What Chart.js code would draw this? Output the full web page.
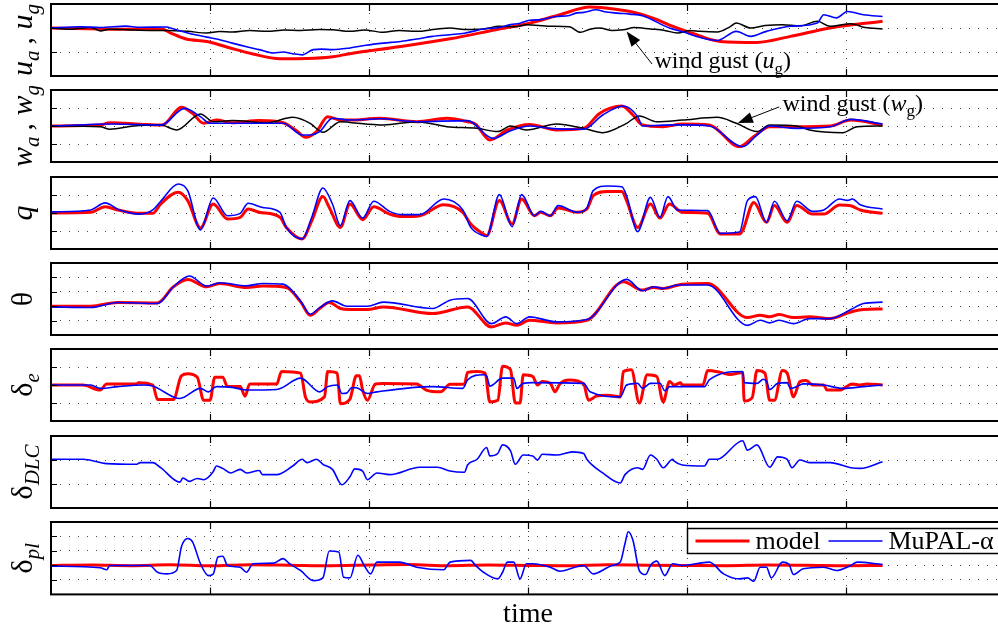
<!DOCTYPE html>
<html>
<head>
<meta charset="utf-8">
<script src="https://cdn.jsdelivr.net/npm/chart.js@4.4.0/dist/chart.umd.min.js"></script>
<style>
  html, body { margin: 0; padding: 0; background: #fff; overflow: hidden; width: 998px; height: 631px; }
  .panel { position: absolute; left: 0; width: 1012px; }
</style>
</head>
<body>
<div class="panel" id="p0"><canvas id="c0" width="1012" height="80"></canvas></div>
<div class="panel" id="p1"><canvas id="c1" width="1012" height="80"></canvas></div>
<div class="panel" id="p2"><canvas id="c2" width="1012" height="80"></canvas></div>
<div class="panel" id="p3"><canvas id="c3" width="1012" height="80"></canvas></div>
<div class="panel" id="p4"><canvas id="c4" width="1012" height="80"></canvas></div>
<div class="panel" id="p5"><canvas id="c5" width="1012" height="80"></canvas></div>
<div class="panel" id="p6"><canvas id="c6" width="1012" height="113"></canvas></div>
<script>
// ---- data (time in s, values in scaled units) ----
var uModelT = [0, 4.3, 7.0, 7.5, 8.5, 9.8, 11.1, 12.7, 14.4, 16.1, 17.6, 18.8, 22.0, 25.1, 28.2, 30.1, 32.0, 33.9, 35.5, 37.0, 38.0, 38.9, 40.0, 41.1, 42.1, 44.4, 46.5, 49.0, 52.3];
var uModel  = [0, -0.05, -0.05, -0.2, -0.46, -0.56, -0.8, -1.08, -1.28, -1.27, -1.21, -1.07, -0.77, -0.45, -0.04, 0.2, 0.55, 0.87, 0.78, 0.6, 0.38, 0.12, -0.14, -0.4, -0.56, -0.6, -0.35, 0, 0.28];
var uMupalT = [0, 1.8, 3.1, 4.7, 5.6, 7.3, 7.5, 8.6, 9.8, 10.5, 11.4, 12.3, 13.1, 14.0, 14.6, 15.2, 15.8, 16.5, 17.0, 17.7, 18.8, 19.8, 20.9, 22.0, 23.0, 24.0, 25.1, 26.0, 27.2, 28.2, 28.9, 29.5, 30.1, 30.8, 31.8, 32.6, 33.0, 33.5, 34.3, 34.8, 35.6, 36.4, 37.2, 38.9, 39.8, 40.6, 41.9, 43.1, 44.0, 45.0, 46.5, 48.2, 48.6, 49.4, 50.1, 51.1, 52.3];
var uMupal  = [0, 0.05, 0.02, 0.08, 0.03, 0.04, 0, -0.21, -0.38, -0.47, -0.63, -0.78, -0.9, -1.04, -1.0, -1.07, -1.12, -0.9, -0.88, -0.9, -0.83, -0.72, -0.63, -0.56, -0.46, -0.35, -0.28, -0.22, -0.04, 0.02, 0.14, 0.2, 0.32, 0.35, 0.48, 0.52, 0.62, 0.65, 0.76, 0.68, 0.62, 0.58, 0.51, 0, -0.17, -0.35, -0.52, -0.14, -0.35, -0.14, 0.07, 0.21, 0.55, 0.42, 0.69, 0.55, 0.48];
var uGustT  = [0, 1.2, 2.5, 3.1, 3.7, 5.0, 6.2, 7.3, 8.6, 9.8, 10.6, 11.4, 12.5, 13.6, 14.7, 15.7, 16.9, 17.7, 18.8, 19.7, 20.9, 21.9, 23.0, 24.2, 25.1, 26.0, 27.2, 28.2, 29.2, 29.9, 31.4, 32.6, 33.3, 33.9, 34.5, 35.3, 36.0, 36.7, 37.7, 38.6, 39.4, 40.2, 40.8, 41.9, 42.7, 43.1, 44.0, 44.9, 46.0, 47.1, 48.2, 49.0, 50.3, 51.2, 52.3];
var uGust   = [0, -0.05, 0.02, -0.12, -0.05, -0.08, -0.1, -0.1, -0.14, -0.21, -0.15, -0.17, -0.1, -0.14, -0.08, -0.1, -0.06, -0.07, -0.14, -0.08, -0.18, -0.1, -0.14, -0.05, 0, -0.06, -0.04, 0.07, 0.05, 0.14, 0.07, 0.05, -0.18, -0.05, 0, -0.1, -0.07, 0.02, -0.04, -0.1, -0.21, -0.1, -0.14, -0.17, 0.05, 0.21, 0, 0.1, 0.14, 0.08, 0.28, 0.07, 0.18, 0.02, -0.04];

var wModelT = [0, 3.1, 3.7, 5.6, 7.0, 8.2, 8.9, 9.6, 10.4, 11.4, 13.1, 14.6, 15.5, 16.0, 16.7, 17.4, 18.2, 18.8, 20.7, 23.0, 24.9, 26.2, 26.7, 27.6, 28.7, 30.1, 31.8, 33.5, 34.5, 35.9, 36.6, 37.2, 38.5, 39.7, 41.4, 43.3, 44.2, 45.2, 46.9, 49.0, 50.3, 52.3];
var wModel  = [0, 0.05, 0.18, 0.1, 0.05, 1.04, 0.7, 0.15, 0.33, 0.18, 0.3, 0.18, -0.31, -0.63, -0.31, 0.52, 0.33, 0.33, 0.43, 0.24, 0.43, 0.24, 0.1, -0.78, -0.22, 0.09, -0.22, -0.13, 0.7, 1.11, 0.61, 0.06, -0.04, 0.11, 0.06, -1.15, -0.59, -0.04, -0.04, 0, 0.33, 0.06];
var wMupalT = [0, 3.9, 6.9, 7.2, 8.4, 9.4, 10.0, 11.4, 14.6, 15.8, 16.3, 16.9, 17.7, 18.8, 20.7, 23.0, 26.2, 27.8, 28.9, 30.1, 31.4, 33.5, 34.7, 36.0, 36.9, 37.2, 38.5, 39.7, 41.4, 43.5, 44.4, 45.2, 46.9, 49.0, 50.3, 52.3];
var wMupal  = [0, 0.11, 0.05, 0.15, 0.98, 0.52, 0.15, 0.15, 0.15, -0.5, -0.5, -0.31, 0.43, 0.33, 0.4, 0.24, 0.3, -0.69, -0.26, 0, -0.13, -0.18, 0.61, 1.11, 0.52, 0, 0.05, 0.06, 0, -1.15, -0.5, 0, -0.13, -0.04, 0.37, 0.11];
var wGustT  = [0, 3.1, 3.7, 5.2, 6.9, 7.9, 9.4, 10.2, 11.4, 13.6, 15.2, 16.3, 17.1, 18.2, 18.8, 20.9, 23.0, 24.9, 26.8, 28.1, 28.9, 29.9, 31.8, 33.5, 34.7, 36.2, 37.0, 38.1, 39.7, 41.9, 43.1, 44.4, 45.2, 46.9, 47.7, 49.8, 50.7, 52.3];
var wGust   = [0, -0.04, -0.18, 0, 0.05, -0.22, 0.67, 0.24, 0.3, 0.18, 0.48, 0.15, -0.35, 0.24, 0.2, 0.06, 0.24, -0.04, -0.13, -0.31, 0, -0.22, 0.11, -0.13, -0.37, 0.15, 0.56, 0.24, 0.33, 0.48, 0.15, -0.31, 0.06, 0, -0.22, -0.37, -0.04, 0];

var qModelT = [0, 2.5, 3.4, 4.2, 5.6, 6.4, 6.9, 8.0, 8.6, 9.4, 10.2, 11.1, 11.9, 12.4, 13.1, 14.4, 14.8, 15.8, 16.4, 17.1, 17.5, 18.2, 18.8, 19.6, 20.3, 21.3, 22.1, 23.2, 24.7, 25.9, 26.4, 27.2, 27.4, 28.2, 29.0, 29.6, 30.4, 30.8, 31.4, 31.9, 33.1, 33.7, 34.1, 35.0, 35.9, 36.2, 36.9, 37.7, 38.3, 38.9, 39.7, 41.3, 42.1, 43.3, 43.5, 44.2, 45.0, 45.5, 46.3, 46.9, 47.9, 48.6, 49.6, 50.3, 50.9, 52.3];
var qModel  = [0, 0.04, 0.35, 0.17, -0.02, -0.02, 0.5, 1.15, 0.69, -0.83, 0.5, -0.33, -0.24, 0.22, 0.04, -0.24, -0.8, -1.44, -0.43, 0.91, 0.31, -0.8, 0.5, -0.37, 0.35, -0.06, -0.2, -0.15, 0.46, 0.04, -0.61, -1.17, -1.26, 0.69, -0.61, 0.78, -0.15, 0.04, -0.15, 0.28, 0.04, 0.22, 0.96, 1.2, 1.2, 0.69, -0.8, 0.5, -0.28, 0.5, 0.04, -0.02, -1.17, -1.17, -0.98, 0.59, -0.52, 0.41, -0.52, 0.41, -0.06, -0.06, 0.44, 0.4, 0.17, -0.02];
var qMupalT = [0, 2.5, 3.4, 4.3, 5.6, 6.4, 6.9, 8.0, 8.6, 9.4, 10.2, 11.1, 11.9, 12.4, 13.3, 14.4, 14.8, 15.8, 16.4, 17.1, 17.7, 18.2, 18.8, 19.6, 20.3, 21.3, 22.1, 23.2, 24.7, 25.9, 26.4, 27.2, 27.4, 28.2, 29.0, 29.6, 30.4, 30.8, 31.4, 31.9, 33.1, 33.7, 34.1, 35.0, 35.9, 36.2, 36.9, 37.7, 38.3, 38.8, 39.4, 41.3, 42.1, 43.3, 43.8, 44.3, 45.0, 45.5, 46.3, 46.9, 47.9, 48.6, 49.6, 50.1, 50.4, 50.9, 52.3];
var qMupal  = [0.06, 0.17, 0.56, 0.17, -0.06, 0.17, 0.65, 1.61, 1.24, -0.94, 0.83, -0.15, -0.02, 0.54, 0.31, 0.04, -0.8, -1.44, -0.24, 1.39, 0.5, -0.7, 0.69, -0.28, 0.65, 0.09, -0.09, -0.09, 0.78, 0.17, -0.8, -1.26, -1.3, 1.02, -0.76, 1.02, -0.15, 0.09, -0.15, 0.41, 0.04, 0.28, 1.24, 1.5, 1.46, 0.96, -1.04, 0.87, -0.24, 0.91, 0.17, 0.13, -1.13, -1.06, 0.69, 0.91, -0.52, 0.65, -0.43, 0.65, 0.09, 0.17, 0.78, 0.7, 0.78, 0.46, 0.22];

var thModelT = [0, 2.5, 4.2, 6.7, 7.7, 8.6, 9.8, 10.6, 12.3, 13.3, 14.8, 15.7, 16.3, 16.9, 17.5, 18.2, 18.8, 19.9, 20.9, 24.0, 26.2, 27.7, 28.6, 29.3, 30.1, 31.8, 33.7, 36.0, 37.2, 37.9, 38.5, 39.7, 41.3, 43.8, 44.6, 45.2, 45.8, 46.7, 47.7, 49.0, 50.3, 51.1, 52.3];
var thModel  = [0, 0, 0.26, 0.23, 1.35, 1.86, 1.35, 1.58, 1.3, 1.4, 1.3, 0.3, -0.63, -0.16, 0.26, -0.16, -0.23, -0.23, -0.05, -0.51, -0.05, -1.44, -1.16, -1.33, -0.98, -1.16, -0.98, 1.7, 1.12, 1.3, 1.23, 1.53, 1.58, -0.79, -0.63, -0.74, -0.58, -0.79, -0.74, -0.86, -0.4, -0.23, -0.19];
var thMupalT = [0, 2.5, 4.2, 6.7, 7.7, 8.7, 9.8, 10.6, 12.3, 13.3, 14.6, 15.7, 16.3, 16.9, 17.7, 18.6, 19.9, 20.9, 24.0, 25.1, 26.2, 27.7, 28.6, 29.3, 30.1, 31.8, 33.7, 36.2, 37.2, 37.9, 38.5, 39.4, 41.3, 43.8, 44.6, 45.2, 45.8, 46.7, 47.7, 49.0, 50.3, 51.1, 52.3];
var thMupal  = [-0.05, -0.09, 0.26, 0.19, 1.35, 2.1, 1.4, 1.63, 1.42, 1.58, 1.53, 0.35, -0.56, -0.1, 0.37, 0, 0, 0.28, -0.16, 0.42, 0.53, -1.21, -0.74, -1.21, -0.74, -1.09, -0.93, 1.86, 1.07, 1.35, 1.23, 1.47, 1.47, -1.33, -0.98, -1.16, -0.98, -1.21, -0.86, -0.86, -0.23, 0.19, 0.28];

var deModelT = [0, 2.0, 3.1, 3.5, 5.4, 5.5, 6.4, 6.7, 7.7, 8.2, 8.6, 9.2, 9.6, 10.0, 10.3, 10.8, 11.1, 11.9, 12.2, 12.5, 14.2, 14.5, 15.7, 16.0, 16.3, 17.2, 17.4, 18.0, 18.2, 18.8, 19.2, 19.4, 19.6, 19.9, 20.4, 20.9, 23.0, 23.6, 24.5, 25.1, 26.0, 26.2, 26.8, 27.3, 27.6, 28.1, 28.4, 28.9, 29.2, 29.5, 29.7, 30.3, 30.6, 30.9, 31.4, 31.7, 32.0, 32.6, 33.5, 33.8, 34.3, 35.0, 35.8, 36.0, 36.5, 37.0, 37.5, 38.1, 38.5, 38.9, 39.2, 39.6, 39.7, 41.0, 41.3, 42.1, 42.7, 43.5, 43.6, 44.1, 44.4, 44.9, 45.2, 45.5, 46.0, 46.3, 46.7, 47.1, 47.5, 47.9, 48.6, 48.8, 49.6, 50.4, 50.9, 51.3, 52.3];
var deModel  = [0, 0, -0.28, 0.06, 0.06, 0.13, 0, -0.81, -0.81, 0.51, 0.62, 0.43, -0.85, -0.85, 0.43, 0.43, -0.09, -0.09, -0.62, 0.06, 0.06, 0.75, 0.66, -0.66, -0.94, -0.66, 0.75, 0.66, -1.04, -0.78, 0.51, 0.51, -0.28, -0.85, 0.06, 0.09, 0.06, -0.28, -0.38, 0.04, 0.04, 0.7, 0.75, 0.66, -0.94, -0.85, 1.04, 0.85, -1.0, -1.0, 0.57, 0.47, 0, 0.19, 0.1, -0.38, 0.06, 0.28, 0.06, -0.85, -0.62, -0.57, -0.66, 0.75, 0.85, -1.0, 0.57, 0.47, -0.94, 0.19, 0, 0.13, 0, 0, 0.81, 0.7, 0.58, 0.7, -0.89, -0.7, 0.81, 0.66, -0.85, -0.85, 0.81, 0.66, -0.66, 0.19, 0.25, 0, 0, -0.28, -0.28, 0.06, 0, 0.06, 0];
var deMupalT = [0, 2.5, 3.1, 4.2, 5.8, 6.4, 7.7, 8.1, 9.4, 9.9, 10.4, 11.4, 12.3, 14.2, 15.7, 16.9, 17.4, 18.0, 18.3, 18.6, 18.9, 19.2, 19.9, 20.5, 24.0, 25.9, 26.2, 27.2, 27.4, 27.6, 28.4, 29.1, 29.3, 29.7, 30.3, 33.5, 33.9, 35.8, 36.2, 36.9, 37.2, 37.7, 38.3, 38.6, 38.9, 41.1, 41.4, 43.5, 43.6, 44.4, 44.8, 45.0, 45.2, 45.7, 46.3, 46.5, 46.9, 47.3, 48.6, 49.8, 51.1, 52.3];
var deMupal  = [0, 0, -0.19, -0.09, 0, -0.06, -0.66, -0.75, -0.19, -0.38, -0.09, -0.13, -0.28, -0.25, 0.38, -0.38, -0.09, 0, -0.47, -0.45, -0.15, -0.15, -0.47, -0.38, -0.09, -0.19, 0.28, 0.57, 0.5, -0.06, 0.38, 0.38, -0.19, 0.09, 0.13, 0.09, -0.38, -0.66, 0, 0.09, -0.19, 0.09, 0.1, -0.32, -0.09, -0.09, 0.28, 0.75, 0.13, 0.09, 0.32, 0.2, -0.25, 0.09, 0.13, -0.19, -0.09, 0.06, 0, -0.19, -0.09, 0];

var dlcT = [0, 2.0, 3.5, 5.4, 5.6, 6.4, 6.9, 8.1, 8.3, 8.7, 9.2, 9.6, 10.2, 10.4, 10.8, 11.3, 11.9, 12.3, 13.1, 13.3, 14.2, 15.2, 15.8, 16.1, 16.7, 17.1, 17.7, 18.3, 18.8, 19.1, 19.6, 19.9, 20.5, 21.3, 23.2, 24.3, 25.1, 26.0, 26.2, 26.8, 27.4, 27.6, 28.1, 28.4, 28.9, 29.2, 29.7, 30.3, 30.6, 30.9, 31.8, 32.8, 33.5, 33.7, 34.7, 35.8, 36.1, 36.9, 37.2, 37.7, 38.1, 38.5, 39.1, 39.2, 39.7, 41.1, 41.4, 41.9, 43.5, 43.8, 44.4, 45.2, 45.7, 46.3, 46.6, 47.1, 47.7, 49.0, 50.3, 50.9, 52.3];
var dlcMupal = [0.03, 0.03, -0.15, -0.18, -0.11, -0.11, -0.32, -0.92, -0.75, -0.89, -0.77, -0.82, -0.49, -0.25, -0.35, -0.54, -0.39, -0.54, -0.44, -0.61, -0.61, -0.25, 0.03, -0.11, 0.03, -0.18, -0.39, -1.03, -0.7, -0.37, -0.46, -0.82, -0.54, -0.61, -0.3, -0.3, -0.46, -0.51, -0.21, 0.03, 0.52, 0.17, 0.27, 0.63, 0.38, -0.18, 0.21, 0.17, 0, 0.24, 0.21, 0.34, 0.27, 0.03, -0.54, -0.96, -0.61, -0.32, -0.39, 0.21, 0.03, -0.32, 0.03, -0.05, -0.21, -0.25, 0.03, 0.03, 0.8, 0.41, 0.63, -0.3, 0.13, 0.03, -0.32, 0, -0.11, -0.11, -0.32, -0.35, -0.07];

var plModelT = [0, 2.5, 5.0, 7.5, 10.0, 12.5, 15.0, 17.5, 20.0, 22.5, 25.0, 27.5, 30.0, 32.5, 35.0, 37.5, 40.0, 42.5, 45.0, 47.5, 50.0, 52.3];
var plModel  = [0, 0.03, -0.02, 0.04, -0.03, 0.05, 0.02, -0.02, 0.03, 0.06, -0.02, 0.03, 0, -0.03, 0.04, 0.02, 0, -0.02, 0.03, 0.01, -0.02, 0];
var plMupalT = [0, 3.1, 3.5, 3.7, 6.2, 6.7, 7.3, 7.9, 8.2, 8.6, 8.9, 9.4, 9.9, 10.2, 10.5, 10.8, 11.1, 11.9, 12.3, 12.7, 14.0, 14.6, 15.0, 15.7, 16.5, 17.1, 17.5, 18.1, 18.4, 18.8, 19.3, 19.7, 20.1, 20.5, 21.9, 23.0, 24.7, 25.1, 26.4, 26.7, 27.2, 28.1, 28.4, 28.7, 29.1, 29.5, 29.9, 30.3, 31.4, 32.0, 33.5, 34.1, 35.3, 35.8, 36.1, 36.3, 36.6, 37.0, 37.4, 37.7, 38.1, 38.6, 39.1, 39.7, 41.4, 42.3, 43.3, 43.8, 44.2, 44.6, 45.0, 45.3, 46.0, 46.4, 46.7, 47.3, 48.6, 49.4, 50.3, 50.7, 52.3];
var plMupal  = [-0.05, -0.16, -0.3, 0, 0, -0.47, -0.58, -0.35, 1.28, 1.86, 1.63, 0.12, -0.7, -0.6, 0.58, 0.63, 0, -0.12, -0.47, 0.12, 0.16, 0.47, 0.12, -0.35, -1.05, -0.86, 1.0, 0.93, -0.81, -0.86, 0.7, 0, -0.58, 0.23, 0.23, -0.12, -0.3, 0.23, 0.35, 0, -0.47, -0.93, -0.47, 0.23, 0.23, -0.93, 0.12, 0.12, -0.12, -0.4, 0, -0.58, 0, 0.23, 1.51, 2.33, 1.74, -0.35, -0.63, 0, 0.3, -0.7, 0.12, 0, 0.23, -0.58, -0.93, -0.86, -1.09, -0.12, -0.12, -0.86, 0.23, 0.1, -0.63, -0.23, -0.12, -0.35, 0, 0.23, 0.07];

var seriesNames = ['model', 'MuPAL-\u03b1', 'wind gust'];
var timeLabel = 'time';

// ---- styling ----
var SERIF = "'Liberation Serif', 'Times New Roman', serif";
var styles = {
  model: { color: '#ff0000', width: 3, order: 2 },
  mupal: { color: '#0000ff', width: 1.6, order: 0 },
  gust:  { color: '#000000', width: 1.5, order: 1 }
};

function makeSet(label, t, v, kind) {
  var s = styles[kind];
  return {
    label: label,
    data: t.map(function (x, i) { return { x: x, y: v[i] }; }),
    borderColor: s.color,
    backgroundColor: s.color,
    borderWidth: s.width,
    order: s.order,
    pointRadius: 0,
    fill: false,
    cubicInterpolationMode: 'monotone'
  };
}

// y-label parts: [text, kind]  kind: n normal, i italic, s subscript italic
var panels = [
  { min: -2, max: 1, label: [['u','i'],['a','s'],['\u2009, ','n'],['u','i'],['g','s']],
    sets: [makeSet(seriesNames[0], uModelT, uModel, 'model'), makeSet(seriesNames[1], uMupalT, uMupal, 'mupal'), makeSet(seriesNames[2], uGustT, uGust, 'gust')],
    note: { tipT: 36.2, tipV: -0.15, tailT: 37.8, tailV: -1.5, textT: 37.95, textV: -1.68, sym: 'u' } },
  { min: -2, max: 2, label: [['w','i'],['a','s'],['\u2009, ','n'],['w','i'],['g','s']],
    sets: [makeSet(seriesNames[0], wModelT, wModel, 'model'), makeSet(seriesNames[1], wMupalT, wMupal, 'mupal'), makeSet(seriesNames[2], wGustT, wGust, 'gust')],
    note: { tipT: 43.2, tipV: 0.17, tailT: 45.8, tailV: 1.06, textT: 46.0, textV: 0.83, sym: 'w' } },
  { min: -2, max: 2, label: [['q','i']],
    sets: [makeSet(seriesNames[0], qModelT, qModel, 'model'), makeSet(seriesNames[1], qMupalT, qMupal, 'mupal')] },
  { min: -2, max: 3, label: [['\u03b8','n']],
    sets: [makeSet(seriesNames[0], thModelT, thModel, 'model'), makeSet(seriesNames[1], thMupalT, thMupal, 'mupal')] },
  { min: -2, max: 2, label: [['\u03b4','n'],['e','s']],
    sets: [makeSet(seriesNames[0], deModelT, deModel, 'model'), makeSet(seriesNames[1], deMupalT, deMupal, 'mupal')] },
  { min: -2, max: 1, label: [['\u03b4','n'],['DLC','s']],
    sets: [makeSet(seriesNames[1], dlcT, dlcMupal, 'mupal')] },
  { min: -2, max: 3, label: [['\u03b4','n'],['pl','s']],
    sets: [makeSet(seriesNames[0], plModelT, plModel, 'model'), makeSet(seriesNames[1], plMupalT, plMupal, 'mupal')],
    legend: { fromT: 40 } }
];

function fontFor(kind, size) {
  if (kind === 'n') return size + 'px ' + SERIF;
  return 'italic ' + size + 'px ' + SERIF;
}

// draws a run of [text, kind] parts starting at x along the baseline; returns width
function drawParts(ctx, parts, x, y, size, measureOnly) {
  var w = 0;
  parts.forEach(function (p) {
    var sub = p[1] === 's' || p[1] === 'sn';
    var sz = sub ? Math.round(size * 0.7) : size;
    ctx.font = p[1] === 'sn' ? sz + 'px ' + SERIF : fontFor(sub ? 'i' : p[1], sz);
    if (!measureOnly) ctx.fillText(p[0], x + w, y + (sub ? size * 0.22 : 0));
    w += ctx.measureText(p[0]).width;
  });
  return w;
}

var framePlugin = {
  id: 'frame',
  afterDraw: function (chart) {
    var ctx = chart.ctx, a = chart.chartArea, sx = chart.scales.x, sy = chart.scales.y;
    ctx.save();
    ctx.strokeStyle = '#000';
    ctx.lineWidth = 1.2;
    ctx.beginPath();
    sx.ticks.forEach(function (tk) {
      if (tk.value <= sx.min || tk.value >= sx.max) return;
      var px = Math.round(sx.getPixelForValue(tk.value)) + 0.5;
      ctx.moveTo(px, a.top); ctx.lineTo(px, a.top + 7);
      ctx.moveTo(px, a.bottom); ctx.lineTo(px, a.bottom - 7);
    });
    sy.ticks.forEach(function (tk) {
      if (tk.value <= sy.min || tk.value >= sy.max) return;
      var py = Math.round(sy.getPixelForValue(tk.value)) + 0.5;
      ctx.moveTo(a.left, py); ctx.lineTo(a.left + 6, py);
    });
    ctx.stroke();
    ctx.lineWidth = 2;
    ctx.strokeRect(a.left, a.top, a.right - a.left, a.bottom - a.top);
    ctx.restore();
  }
};

var sideLabelPlugin = {
  id: 'sideLabel',
  afterDraw: function (chart, args, opts) {
    if (!opts.parts) return;
    var ctx = chart.ctx, a = chart.chartArea;
    ctx.save();
    ctx.fillStyle = '#000';
    ctx.textBaseline = 'alphabetic';
    ctx.translate(a.left - 19, (a.top + a.bottom) / 2);
    ctx.rotate(-Math.PI / 2);
    var w = drawParts(ctx, opts.parts, 0, 0, 30, true);
    drawParts(ctx, opts.parts, -w / 2, 0, 30, false);
    ctx.restore();
  }
};

var gustNotePlugin = {
  id: 'gustNote',
  afterDraw: function (chart, args, opts) {
    if (!opts.note) return;
    var n = opts.note, ctx = chart.ctx, sx = chart.scales.x, sy = chart.scales.y;
    var x1 = sx.getPixelForValue(n.tailT), y1 = sy.getPixelForValue(n.tailV);
    var x2 = sx.getPixelForValue(n.tipT), y2 = sy.getPixelForValue(n.tipV);
    var ang = Math.atan2(y2 - y1, x2 - x1), hl = 15, hw = 5.5;
    ctx.save();
    ctx.strokeStyle = '#000'; ctx.fillStyle = '#000'; ctx.lineWidth = 1;
    ctx.beginPath(); ctx.moveTo(x1, y1); ctx.lineTo(x2 - Math.cos(ang) * hl * 0.8, y2 - Math.sin(ang) * hl * 0.8); ctx.stroke();
    ctx.beginPath();
    ctx.moveTo(x2, y2);
    ctx.lineTo(x2 - Math.cos(ang) * hl - Math.sin(ang) * hw, y2 - Math.sin(ang) * hl + Math.cos(ang) * hw);
    ctx.lineTo(x2 - Math.cos(ang) * hl + Math.sin(ang) * hw, y2 - Math.sin(ang) * hl - Math.cos(ang) * hw);
    ctx.closePath(); ctx.fill();
    ctx.textBaseline = 'alphabetic';
    drawParts(ctx, [[seriesNames[2] + ' (', 'n'], [n.sym, 'i'], ['g', 'sn'], [')', 'n']],
      sx.getPixelForValue(n.textT), sy.getPixelForValue(n.textV), 24, false);
    ctx.restore();
  }
};

var boxLegendPlugin = {
  id: 'boxLegend',
  afterDraw: function (chart, args, opts) {
    if (opts.fromT === undefined) return;
    var ctx = chart.ctx, a = chart.chartArea, sx = chart.scales.x;
    var left = sx.getPixelForValue(opts.fromT) + 0.5, top = a.top + 6.5, h = 25;
    ctx.save();
    ctx.font = '26px ' + SERIF;
    ctx.textBaseline = 'middle';
    var x = left + 8, items = [];
    chart.data.datasets.forEach(function (ds) {
      var tw = ctx.measureText(ds.label).width;
      items.push({ ds: ds, x: x, tw: tw });
      x += 54 + 6 + tw + 8;
    });
    ctx.fillStyle = '#fff';
    ctx.fillRect(left, top, x - left, h);
    ctx.strokeStyle = '#000'; ctx.lineWidth = 1.5;
    ctx.strokeRect(left, top, x - left, h);
    var cy = top + h / 2;
    items.forEach(function (it) {
      ctx.strokeStyle = it.ds.borderColor; ctx.lineWidth = it.ds.borderWidth;
      ctx.beginPath(); ctx.moveTo(it.x, cy); ctx.lineTo(it.x + 54, cy); ctx.stroke();
      ctx.fillStyle = '#000';
      ctx.fillText(it.ds.label, it.x + 60, cy + 1);
    });
    ctx.restore();
  }
};

var panelTop0 = 4, panelStep = 86.33, panelH = 72;

panels.forEach(function (p, i) {
  var last = i === panels.length - 1;
  var div = document.getElementById('p' + i);
  div.style.top = (panelTop0 + i * panelStep - 4) + 'px';
  new Chart(document.getElementById('c' + i), {
    type: 'line',
    data: { datasets: p.sets },
    options: {
      responsive: false,
      animation: false,
      events: [],
      layout: { padding: { left: 51, right: 7, top: 4, bottom: last ? 0 : 4 } },
      scales: {
        x: {
          type: 'linear', min: 0, max: 60,
          ticks: { display: false, stepSize: 10 },
          grid: { drawTicks: false, color: '#444', lineWidth: 1 },
          border: { display: false, dash: [1, 8] },
          title: { display: last, text: timeLabel, color: '#000', font: { family: SERIF, size: 28 }, padding: { top: 3, bottom: 0 } }
        },
        y: {
          min: p.min, max: p.max,
          ticks: { display: false, stepSize: 1 },
          grid: { drawTicks: false, color: '#444', lineWidth: 1 },
          border: { display: false, dash: [1, 8] }
        }
      },
      plugins: {
        legend: { display: false },
        tooltip: { enabled: false },
        sideLabel: { parts: p.label },
        gustNote: { note: p.note },
        boxLegend: { fromT: p.legend ? p.legend.fromT : undefined }
      }
    },
    plugins: [framePlugin, sideLabelPlugin, gustNotePlugin, boxLegendPlugin]
  });
});
</script>
</body>
</html>
